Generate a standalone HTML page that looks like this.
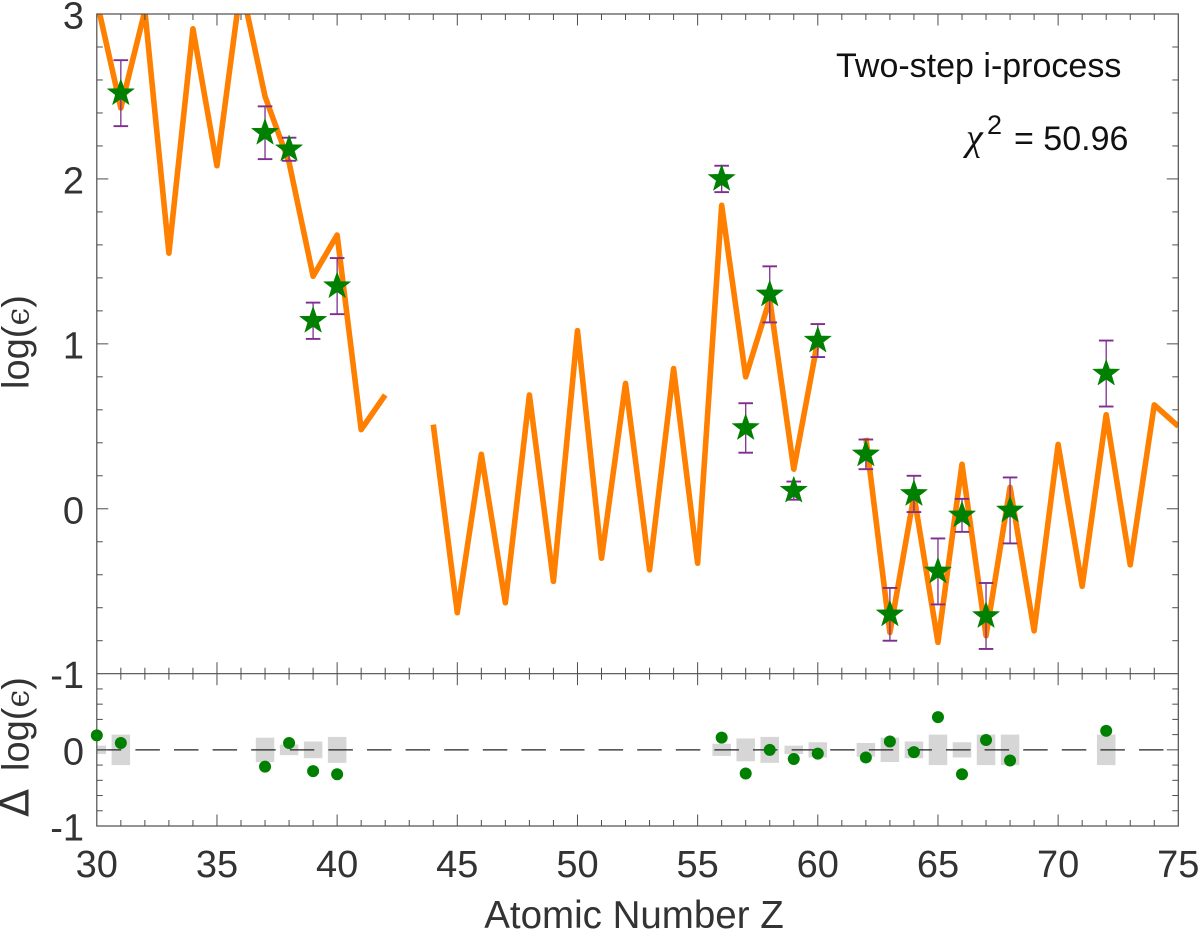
<!DOCTYPE html>
<html lang="en">
<head>
<meta charset="utf-8">
<title>Two-step i-process abundance fit</title>
<style>
html,body{margin:0;padding:0;background:#fff;width:1200px;height:930px;overflow:hidden}
svg{display:block}
text{font-family:"Liberation Sans",sans-serif}
</style>
</head>
<body>
<svg id="chart" xmlns="http://www.w3.org/2000/svg" width="1200" height="930" viewBox="0 0 1200 930">
<defs>
<clipPath id="top-clip"><rect x="97" y="14" width="1081.5" height="659.7"></rect></clipPath>
<clipPath id="bottom-clip"><rect x="97" y="673.7" width="1081.5" height="152.3"></rect></clipPath>
</defs>
<g id="lower-marks"></g>
<g id="upper-marks"></g>
<g id="axes"></g>
<g id="dots"></g>
<text x="634" y="928" font-size="38.5" fill="#333" text-anchor="middle">Atomic Number Z</text>
<text transform="translate(28.5,389) rotate(-90)" font-size="38" fill="#333">log(<tspan style="font-family:'DejaVu Serif',serif" font-size="32">ϵ</tspan>)</text>
<g transform="translate(28.5,817) rotate(-90)">
<text x="0" y="0" font-size="41" fill="#333" style="font-family:'DejaVu Sans',sans-serif">Δ</text>
<text x="46" y="0" font-size="38" fill="#333">log(<tspan style="font-family:'DejaVu Serif',serif" font-size="32">ϵ</tspan>)</text>
</g>
<text x="836" y="77" font-size="34" fill="#111">Two-step i-process</text>
<text x="966" y="150" font-size="38" fill="#111" font-style="italic" style="font-family:'Liberation Serif',serif">χ</text>
<text x="987" y="134" font-size="27" fill="#111">2</text>
<text x="1014" y="150" font-size="34" fill="#111">= 50.96</text>
</svg>
<script>
var modelZ = [30,31,32,33,34,35,36,37,38,39,40,41,42,43,44,45,46,47,48,49,50,51,52,53,54,55,56,57,58,59,60,61,62,63,64,65,66,67,68,69,70,71,72,73,74,75];
var modelValues = [3.08,2.43,3.02,1.55,2.91,2.08,3.18,2.50,2.10,1.41,1.66,0.48,0.69,null,0.51,-0.63,0.33,-0.57,0.69,-0.44,1.08,-0.30,0.76,-0.37,0.85,-0.33,1.84,0.80,1.27,0.24,1.02,null,0.43,-0.75,0.08,-0.81,0.27,-0.77,0.13,-0.74,0.39,-0.47,0.57,-0.34,0.63,0.50];
var observedZ = [31,37,38,39,40,56,57,58,59,60,62,63,64,65,66,67,68,72];
var observedValues = [2.52,2.28,2.18,1.14,1.35,2.00,0.49,1.30,0.11,1.02,0.33,-0.64,0.09,-0.38,-0.04,-0.65,-0.01,0.82];
var observedErrors = [0.20,0.16,0.07,0.11,0.17,0.08,0.15,0.17,0.055,0.10,0.09,0.16,0.11,0.20,0.10,0.20,0.20,0.20];
var residualZ = [30,31,37,38,39,40,56,57,58,59,60,62,63,64,65,66,67,68,72];
var residualValues = [0.19,0.09,-0.22,0.09,-0.28,-0.32,0.16,-0.31,0.00,-0.12,-0.05,-0.10,0.11,-0.03,0.43,-0.32,0.13,-0.14,0.25];
var residualBands = [0.055,0.20,0.16,0.07,0.11,0.17,0.08,0.15,0.17,0.055,0.10,0.09,0.16,0.11,0.20,0.10,0.20,0.20,0.20];
var xTickLabels = [30,35,40,45,50,55,60,65,70,75];
var yTickLabels = [3,2,1,0,-1];
var residualTickValues = [1,0,-1];
var residualTickLabels = ["-1","0","-1"];

var NS = "http://www.w3.org/2000/svg";
var plotLeft = 96.8, plotRight = 1178.3, topY = 14, midY = 673.7, botY = 826;
function sx(z){ return plotLeft + (z - 30) * (plotRight - plotLeft) / 45; }
function sy(v){ return topY + (3 - v) * (midY - topY) / 4; }
function ry(v){ return (midY + botY) / 2 - v * (botY - midY) / 2; }
function make(parent, tag, attrs){
  var el = document.createElementNS(NS, tag);
  for (var k in attrs) el.setAttribute(k, attrs[k]);
  parent.appendChild(el);
  return el;
}
var lower = document.getElementById("lower-marks");
var upper = document.getElementById("upper-marks");
var axes = document.getElementById("axes");
var dots = document.getElementById("dots");

/* residual uncertainty bands */
var bandGroup = make(lower, "g", {"clip-path":"url(#bottom-clip)"});


residualZ.forEach(function(z, i){
  var r = make(bandGroup, "rect", {x:sx(z-0.385), y:ry(residualBands[i]), width:sx(z+0.385)-sx(z-0.385), height:ry(-residualBands[i])-ry(residualBands[i]), fill:"#d6d6d6"});
  
  
});
var zero = make(lower, "line", {x1:plotLeft, x2:plotRight, y1:ry(0), y2:ry(0), stroke:"#222", "stroke-width":1.3, "stroke-dasharray":"24.5 14.1"});



/* model line, broken where values are missing */
var d = "", pen = false;
modelZ.forEach(function(z, i){
  var v = modelValues[i];
  if (v === null) { pen = false; return; }
  d += (pen ? "L" : "M") + sx(z).toFixed(2) + " " + sy(v).toFixed(2);
  pen = true;
});
var modelGroup = make(upper, "g", {"clip-path":"url(#top-clip)"});


var path = make(modelGroup, "path", {d:d, fill:"none", stroke:"#ff7f00", "stroke-width":5.6, "stroke-linejoin":"round", "stroke-linecap":"butt"});



/* error bars */
observedZ.forEach(function(z, i){
  var x = sx(z), hi = sy(observedValues[i] + observedErrors[i]), lo = sy(observedValues[i] - observedErrors[i]);
  var g = make(upper, "g", {stroke:"#7e2f8e"});
  
  
  make(g, "line", {x1:x, x2:x, y1:hi, y2:lo, "stroke-width":1.3});
  make(g, "line", {x1:x-7.3, x2:x+7.3, y1:hi, y2:hi, "stroke-width":1.9});
  make(g, "line", {x1:x-7.3, x2:x+7.3, y1:lo, y2:lo, "stroke-width":1.9});
});

/* stars */
function starPoints(cx, cy, R){
  var pts = [], r = R * 0.40;
  for (var k = 0; k < 10; k++){
    var a = -Math.PI / 2 + k * Math.PI / 5, q = k % 2 ? r : R;
    pts.push((cx + q * Math.cos(a)).toFixed(2) + "," + (cy + q * Math.sin(a)).toFixed(2));
  }
  return pts.join(" ");
}
observedZ.forEach(function(z, i){
  var s = make(upper, "polygon", {points:starPoints(sx(z), sy(observedValues[i]), 14.2), fill:"#008000", stroke:"#008000", "stroke-width":0.5});
  
  
});

/* residual dots */
residualZ.forEach(function(z, i){
  var c = make(dots, "circle", {cx:sx(z), cy:ry(residualValues[i]), r:6, fill:"#008000"});
  
  
});

/* axes */
var axisColor = "#4d4d4d";
function tick(x1, y1, x2, y2){
  var t = make(axes, "line", {x1:x1, y1:y1, x2:x2, y2:y2, stroke:axisColor, "stroke-width":1});
  
  
}
var frame = make(axes, "rect", {x:plotLeft, y:topY, width:plotRight-plotLeft, height:botY-topY, fill:"none", stroke:axisColor, "stroke-width":1.2});


var divider = make(axes, "line", {x1:plotLeft, x2:plotRight, y1:midY, y2:midY, stroke:axisColor, "stroke-width":1.2});


for (var z = 31; z < 75; z++){
  var major = z % 5 === 0, x = sx(z), len = major ? 11.5 : 6;
  tick(x, topY, x, topY + len);
  tick(x, midY - len, x, midY + len);
  tick(x, botY, x, botY - len);
}
for (var n = 1; n < 20; n++){
  var v = 3 - n * 0.2, isMaj = n % 5 === 0, l = isMaj ? 11.5 : 6, y = sy(v);
  tick(plotLeft, y, plotLeft + l, y);
  tick(plotRight, y, plotRight - l, y);
}
for (var m = 1; m < 10; m++){
  var rv = 1 - m * 0.2, rl = m === 5 ? 11.5 : 6, ya = ry(rv);
  tick(plotLeft, ya, plotLeft + rl, ya);
  tick(plotRight, ya, plotRight - rl, ya);
}
function label(str, x, y, anchor){
  var t = make(axes, "text", {x:x, y:y, "font-size":38, fill:"#333", "text-anchor":anchor});
  t.textContent = str;
  return t;
}
xTickLabels.forEach(function(val){
  var t = label(String(val), sx(val), 877, "middle");
  
  
});
yTickLabels.forEach(function(val){
  var t = label(String(val), 84, sy(val) + 14.5, "end");
  
  
});
residualTickValues.forEach(function(val, i){
  if (i === 0) return;
  var t = label(residualTickLabels[i], 84, ry(val) + 14.5, "end");
  
  
});
</script>
</body>
</html>
